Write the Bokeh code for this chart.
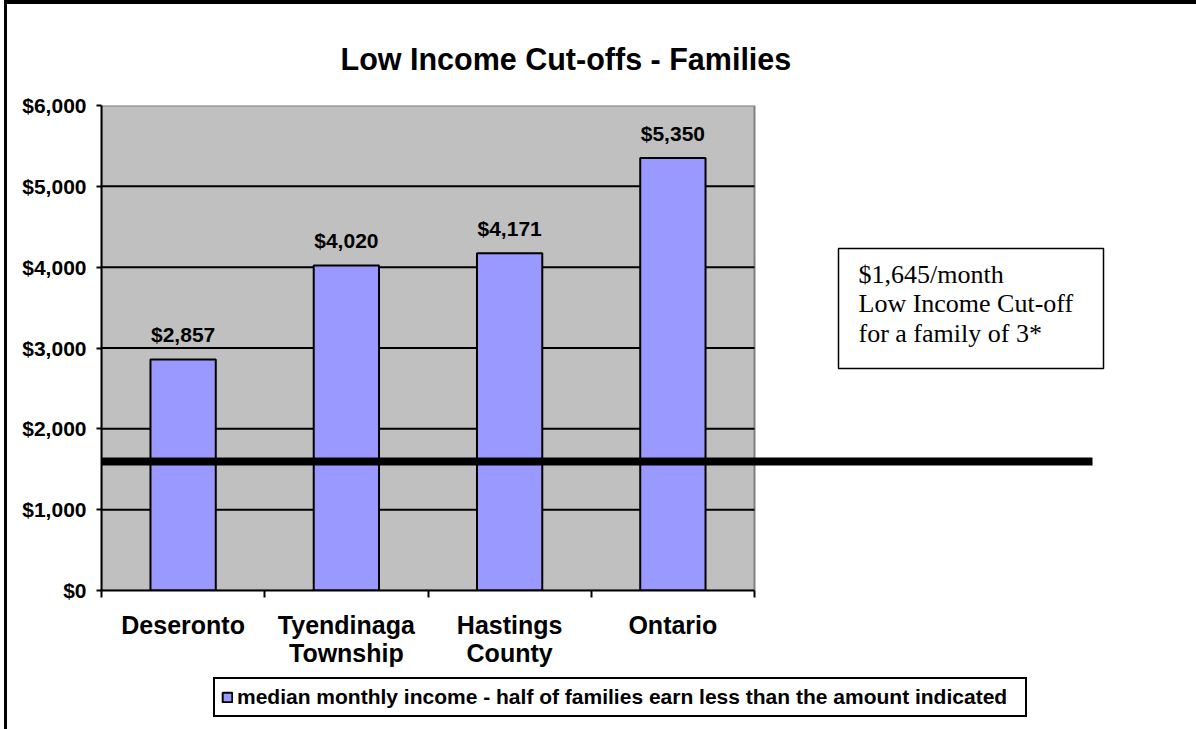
from bokeh.plotting import figure
from bokeh.layouts import column
from bokeh.models import (Range1d, FixedTicker, NumeralTickFormatter, CustomJSTickFormatter,
                          Legend, LegendItem, ColumnDataSource, LinearAxis)
from bokeh.core.properties import value
from bokeh.embed import file_html
from bokeh.resources import INLINE

# ---- data ----
categories = ["Deseronto", "Tyendinaga\nTownship", "Hastings\nCounty", "Ontario"]
median_monthly_income = [2857, 4020, 4171, 5350]
value_labels = ["$2,857", "$4,020", "$4,171", "$5,350"]
y_ticks = [0, 1000, 2000, 3000, 4000, 5000, 6000]
cutoff_line_value = 1595
note_lines = ["$1,645/month", "Low Income Cut-off", "for a family of 3*"]
title_text = "Low Income Cut-offs - Families"
legend_text = "median monthly income - half of families earn less than the amount indicated"

# ---- layout ----
W = 1189
LEFT, TOP, RIGHT, BOTTOM = 94, 101, 5, 82
H_MAIN = TOP + 485 + BOTTOM
H_LEG = 725 - H_MAIN
frame_w = W - LEFT - RIGHT
cat_px = 163.25
x_end = frame_w / cat_px
n = len(categories)
px_y = (y_ticks[-1] - y_ticks[0]) / 485.0   # data units per pixel (y)

SANS = "Liberation Sans"
SERIF = "Liberation Serif"
BAR_FILL = "#9999FF"

p = figure(width=W, height=H_MAIN, x_range=Range1d(0, x_end), y_range=Range1d(y_ticks[0], y_ticks[-1]),
           output_backend="svg", toolbar_location=None,
           min_border_left=LEFT, min_border_top=TOP, min_border_right=RIGHT, min_border_bottom=BOTTOM,
           x_axis_type=None, y_axis_type=None)
p.outline_line_color = None
p.background_fill_color = "white"
p.border_fill_color = "white"

p.title.text = title_text
p.title.align = "left"
p.title.offset = 239
p.title.standoff = 59
p.title.text_font = SANS
p.title.text_font_size = "30.5px"
p.title.text_font_style = "bold"
p.title.text_color = "black"

# plot area background
p.quad(left=[0], right=[n], bottom=[y_ticks[0]], top=[y_ticks[-1]],
       fill_color="#C0C0C0", line_color="#808080", line_width=2)
# gridlines
inner = y_ticks[1:-1]
p.segment(x0=[0] * len(inner), x1=[n] * len(inner), y0=inner, y1=inner,
          line_color="black", line_width=2)

src = ColumnDataSource(dict(x=[i + 0.5 for i in range(n)], top=median_monthly_income, lab=value_labels))
bars = p.vbar(x="x", top="top", bottom=0, width=0.4, source=src,
              fill_color=BAR_FILL, line_color="black", line_width=2)
p.text(x="x", y="top", text="lab", source=src, text_align="center", text_baseline="alphabetic",
       y_offset=-25, text_font=value(SANS), text_font_style="bold", text_font_size="21px",
       text_color="black")

# cutoff line
line_end_x = (1092 - 101) / cat_px
p.segment(x0=[0], x1=[line_end_x], y0=[cutoff_line_value], y1=[cutoff_line_value],
          line_color="black", line_width=8, line_cap="butt")

# note box
bx0, bx1 = (838 - 101) / cat_px, (1103 - 101) / cat_px
by1, by0 = (590 - 248) * px_y, (590 - 368) * px_y
p.quad(left=[bx0], right=[bx1], bottom=[by0], top=[by1], fill_color="white",
       line_color="black", line_width=1.5)
p.text(x=[(858 - 101) / cat_px], y=[(590 - 259) * px_y], text=["\n".join(note_lines)],
       text_baseline="top", text_align="left", text_font=value(SERIF), text_font_size="26px",
       text_line_height=1.03, text_color="black")

# axes
yaxis = LinearAxis(ticker=FixedTicker(ticks=y_ticks), formatter=NumeralTickFormatter(format="$0,0"))
yaxis.axis_line_width = 2
yaxis.major_tick_out = 5
yaxis.major_tick_in = 0
yaxis.minor_tick_out = 0
yaxis.major_tick_line_width = 2
yaxis.major_label_standoff = 10
yaxis.major_label_text_font = SANS
yaxis.major_label_text_font_style = "bold"
yaxis.major_label_text_font_size = "21px"
yaxis.major_label_text_color = "black"
p.add_layout(yaxis, "left")

xaxis = LinearAxis(ticker=FixedTicker(ticks=[i + 0.5 for i in range(n)], minor_ticks=list(range(n + 1))),
                   formatter=CustomJSTickFormatter(args=dict(names=categories),
                                                   code="return names[Math.floor(tick)]"),
                   bounds=(0, n))
xaxis.axis_line_width = 2
xaxis.major_tick_out = 0
xaxis.major_tick_in = 0
xaxis.minor_tick_out = 7
xaxis.minor_tick_in = 0
xaxis.minor_tick_line_width = 2
xaxis.minor_tick_line_color = "black"
xaxis.major_label_standoff = 13
xaxis.major_label_text_font = SANS
xaxis.major_label_text_font_style = "bold"
xaxis.major_label_text_font_size = "25px"
xaxis.major_label_text_line_height = 1.03
xaxis.major_label_text_color = "black"
p.add_layout(xaxis, "below")

# legend strip (separate figure so the legend is not clipped); its frame is aligned with p's frame
q = figure(width=W, height=H_LEG, x_range=Range1d(0, 1), y_range=Range1d(0, 1),
           output_backend="svg", toolbar_location=None, min_border=0,
           x_axis_type=None, y_axis_type=None)
q.outline_line_color = None
q.background_fill_color = "white"
q.border_fill_color = "white"
proxy = q.vbar(x="x", top="top", bottom=0, width=0.4, source=src, visible=False,
               fill_color=BAR_FILL, line_color="black", line_width=2)
legend = Legend(items=[LegendItem(label=legend_text, renderers=[proxy])],
                location=(213 - 101, H_LEG - (717 - 4 - H_MAIN)),
                border_line_color="black", border_line_width=2, border_line_alpha=1,
                padding=6, margin=0, inactive_fill_alpha=0,
                glyph_width=12, glyph_height=12, label_standoff=4, label_width=782,
                label_text_font=SANS, label_text_font_style="bold", label_text_font_size="21px",
                label_text_color="black",
                background_fill_color="white", background_fill_alpha=1)
q.add_layout(legend)

layout = column(p, q, spacing=0,
                styles={"border-top": "4px solid black", "border-left": "3px solid black",
                        "margin-left": "4px"})

open("out.html", "w").write(file_html(layout, INLINE))
